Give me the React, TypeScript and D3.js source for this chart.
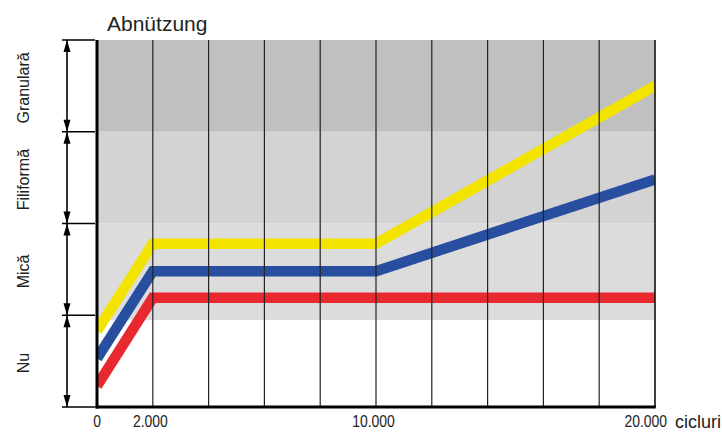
import React from "react";
import * as d3 from "d3";

const levels = ["Nu", "Mică", "Filiformă", "Granulară"];
const cycles = [0, 2000, 10000, 20000];
const yellowSeries = [0.83, 1.78, 1.78, 3.5];
const blueSeries = [0.53, 1.48, 1.48, 2.48];
const redSeries = [0.23, 1.19, 1.19, 1.19];
const tickValues = [0, 2000, 10000, 20000];
const tickLabels = ["0", "2.000", "10.000", "20.000"];
const gridStep = 2000;
const xMax = 20000;
const shadeBottom = 0.95;

const W = 722;
const H = 433;
const L = 97;
const R = 655;
const T = 40;
const B = 407;

export default function App() {
  const x = d3.scaleLinear().domain([0, xMax]).range([L, R]);
  const y = d3.scaleLinear().domain([0, levels.length]).range([B, T]);
  const line = d3
    .line<[number, number]>()
    .x((d) => x(d[0]))
    .y((d) => y(d[1]));
  const mk = (vals: number[]) => line(cycles.map((c, i) => [c, vals[i]] as [number, number])) || "";
  const grid = d3.range(gridStep, xMax, gridStep);
  const boundaries = d3.range(0, levels.length + 1);
  const series = [
    { vals: redSeries, color: "#e8292f" },
    { vals: blueSeries, color: "#284e9f" },
    { vals: yellowSeries, color: "#f3e400" },
  ];
  const font = "'Liberation Sans', Arial, sans-serif";
  return (
    <svg
      width={W}
      height={H}
      style={{ position: "absolute", left: 0, top: 0, background: "#fff" }}
    >
      <defs>
        <clipPath id="plot">
          <rect x={L} y={T} width={R - L} height={B - T} />
        </clipPath>
      </defs>
      {/* background bands */}
      <rect x={L} y={y(4)} width={R - L} height={y(3) - y(4)} fill="#c0c0c0" />
      <rect x={L} y={y(3)} width={R - L} height={y(2) - y(3)} fill="#d3d3d3" />
      <rect x={L} y={y(2)} width={R - L} height={y(shadeBottom) - y(2)} fill="#dcdcdc" />
      {/* lines */}
      <g clipPath="url(#plot)">
        {series.map((s, i) => (
          <path
            key={i}
            d={mk(s.vals)}
            fill="none"
            stroke={s.color}
            strokeWidth={10.5}
            strokeLinejoin="miter"
          />
        ))}
      </g>
      {/* grid */}
      {grid.map((g) => (
        <line key={g} x1={x(g)} x2={x(g)} y1={T} y2={B} stroke="#222" strokeWidth={1.2} />
      ))}
      <line x1={x(xMax)} x2={x(xMax)} y1={T} y2={B} stroke="#111" strokeWidth={1.6} />
      <line x1={L} x2={L} y1={T} y2={B + 1.5} stroke="#000" strokeWidth={3} />
      <line x1={L - 1.5} x2={R + 0.8} y1={B} y2={B} stroke="#000" strokeWidth={3} />
      {/* left level dimension arrows */}
      <line x1={67} x2={67} y1={T} y2={B} stroke="#000" strokeWidth={1.6} />
      {boundaries.map((b) => (
        <line key={b} x1={62} x2={95} y1={y(b)} y2={y(b)} stroke="#000" strokeWidth={1.6} />
      ))}
      {levels.map((lv, i) => {
        const yb = y(i);
        const yt = y(i + 1);
        return (
          <g key={lv}>
            <path d={`M67,${yt}L63.5,${yt + 12}L70.5,${yt + 12}Z`} fill="#000" />
            <path d={`M67,${yb}L63.5,${yb - 12}L70.5,${yb - 12}Z`} fill="#000" />
            <text
              transform={`translate(29,${(yb + yt) / 2 + 2}) rotate(-90)`}
              textAnchor="middle"
              fontFamily={font}
              fontSize={16}
              fill="#222"
            >
              {lv}
            </text>
          </g>
        );
      })}
      {/* x tick labels */}
      {tickValues.map((v, i) => {
        const last = i === tickValues.length - 1;
        const px = last ? x(v) + 12 : i === 0 ? x(v) : x(v) - 2.5;
        return (
          <text
            key={v}
            transform={`translate(${px},427) scale(0.87,1)`}
            textAnchor={last ? "end" : "middle"}
            fontFamily={font}
            fontSize={16}
            fill="#222"
          >
            {tickLabels[i]}
          </text>
        );
      })}
      <text x={675} y={428} fontFamily={font} fontSize={18} fill="#222">
        cicluri
      </text>
      <text x={107} y={31} fontFamily={font} fontSize={21} fill="#222">
        Abnützung
      </text>
    </svg>
  );
}
